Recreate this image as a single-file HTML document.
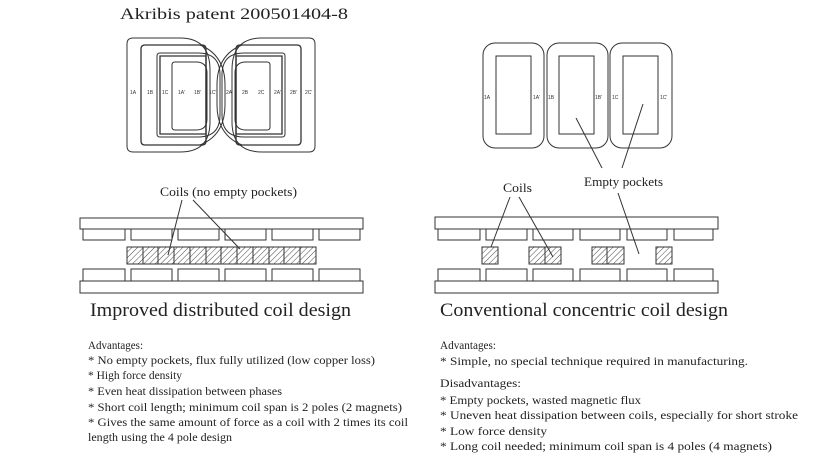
<!DOCTYPE html>
<html><head><meta charset="utf-8"><style>
html,body{margin:0;padding:0;background:#fff;}
svg{display:block;}
text{font-family:"Liberation Serif",serif;fill:#222;}
.s{font-family:"Liberation Sans",sans-serif;font-size:5px;fill:#333;}
</style></head><body>
<svg width="833" height="462" viewBox="0 0 833 462" xmlns="http://www.w3.org/2000/svg">
<defs>
<pattern id="h" patternUnits="userSpaceOnUse" width="4" height="4" patternTransform="rotate(45)">
<line x1="0" y1="0" x2="0" y2="4" stroke="#333" stroke-width="0.9"/>
</pattern>
</defs>
<g fill="none" stroke="#333" stroke-width="1">
<text x="120" y="19" font-size="16" textLength="228" lengthAdjust="spacingAndGlyphs" stroke="none">Akribis patent 200501404-8</text>

<path d="M133,38 H180 Q210,38 210,70 V122 Q210,152 180,152 H133 Q127,152 127,146 V44 Q127,38 133,38 Z"/>
<path d="M145,45 H202 Q206,45 206,49 V141 Q206,145 202,145 H145 Q141,145 141,141 V49 Q141,45 145,45 Z" stroke-width="1.3"/>
<path d="M160,53 H198 Q220,53 220,75 V115 Q220,137 198,137 H160 Q157,137 157,134 V56 Q157,53 160,53 Z"/>
<path d="M160,56 H206 V134 H160 Z" stroke-width="1.3"/>
<path d="M175,62 H196 Q207,62 207,73 V119 Q207,130 196,130 H175 Q172,130 172,127 V65 Q172,62 175,62 Z"/>
<path d="M189,45 H200 Q225,55 225,85 V105 Q225,135 200,145 H189"/>
<g transform="translate(442,0) scale(-1,1)">
<path d="M133,38 H180 Q210,38 210,70 V122 Q210,152 180,152 H133 Q127,152 127,146 V44 Q127,38 133,38 Z"/>
<path d="M145,45 H202 Q206,45 206,49 V141 Q206,145 202,145 H145 Q141,145 141,141 V49 Q141,45 145,45 Z" stroke-width="1.3"/>
<path d="M160,53 H198 Q220,53 220,75 V115 Q220,137 198,137 H160 Q157,137 157,134 V56 Q157,53 160,53 Z"/>
<path d="M160,56 H206 V134 H160 Z" stroke-width="1.3"/>
<path d="M175,62 H196 Q207,62 207,73 V119 Q207,130 196,130 H175 Q172,130 172,127 V65 Q172,62 175,62 Z"/>
<path d="M189,45 H200 Q225,55 225,85 V105 Q225,135 200,145 H189"/>
</g>
<g stroke="none">
<text class="s" x="130" y="94">1A</text><text class="s" x="147" y="94">1B</text><text class="s" x="162" y="94">1C</text>
<text class="s" x="178" y="94">1A'</text><text class="s" x="194" y="94">1B'</text><text class="s" x="209" y="94">1C'</text>
<text class="s" x="226" y="94">2A</text><text class="s" x="242" y="94">2B</text><text class="s" x="258" y="94">2C</text>
<text class="s" x="274" y="94">2A'</text><text class="s" x="290" y="94">2B'</text><text class="s" x="305" y="94">2C'</text>
</g>

<rect x="483" y="43" width="61" height="105" rx="12"/>
<rect x="547" y="43" width="61" height="105" rx="12"/>
<rect x="610" y="43" width="62" height="105" rx="12"/>
<rect x="496" y="56" width="35" height="78"/>
<rect x="559" y="56" width="35" height="78"/>
<rect x="623" y="56" width="35" height="78"/>
<g stroke="none">
<text class="s" x="484" y="99">1A</text><text class="s" x="533" y="99">1A'</text>
<text class="s" x="548" y="99">1B</text><text class="s" x="595" y="99">1B'</text>
<text class="s" x="612" y="99">1C</text><text class="s" x="660" y="99">1C'</text>
</g>

<rect x="80" y="218" width="283" height="11"/>
<rect x="83" y="229" width="42" height="11"/><rect x="131" y="229" width="41" height="11"/><rect x="178" y="229" width="41" height="11"/>
<rect x="225" y="229" width="41" height="11"/><rect x="272" y="229" width="41" height="11"/><rect x="319" y="229" width="41" height="11"/>
<rect x="127" y="247" width="189" height="17" fill="url(#h)"/>
<g>
<line x1="143" y1="247" x2="143" y2="264"/><line x1="158" y1="247" x2="158" y2="264"/><line x1="174" y1="247" x2="174" y2="264"/>
<line x1="190" y1="247" x2="190" y2="264"/><line x1="206" y1="247" x2="206" y2="264"/><line x1="221" y1="247" x2="221" y2="264"/>
<line x1="237" y1="247" x2="237" y2="264"/><line x1="253" y1="247" x2="253" y2="264"/><line x1="269" y1="247" x2="269" y2="264"/>
<line x1="284" y1="247" x2="284" y2="264"/><line x1="300" y1="247" x2="300" y2="264"/>
</g>
<rect x="83" y="269" width="42" height="12"/><rect x="131" y="269" width="41" height="12"/><rect x="178" y="269" width="41" height="12"/>
<rect x="225" y="269" width="41" height="12"/><rect x="272" y="269" width="41" height="12"/><rect x="319" y="269" width="41" height="12"/>
<rect x="80" y="281" width="283" height="12"/>
<text x="160" y="196" font-size="12.5" textLength="137" lengthAdjust="spacingAndGlyphs" stroke="none">Coils (no empty pockets)</text>
<line x1="182" y1="200" x2="168" y2="255"/>
<line x1="193" y1="200" x2="240" y2="249"/>

<rect x="435" y="217" width="283" height="12"/>
<rect x="438" y="229" width="42" height="11"/><rect x="486" y="229" width="41" height="11"/><rect x="533" y="229" width="40" height="11"/>
<rect x="580" y="229" width="40" height="11"/><rect x="627" y="229" width="40" height="11"/><rect x="674" y="229" width="39" height="11"/>
<rect x="482" y="247" width="16" height="17" fill="url(#h)"/>
<rect x="529" y="247" width="16" height="17" fill="url(#h)"/><rect x="545" y="247" width="16" height="17" fill="url(#h)"/>
<rect x="592" y="247" width="15" height="17" fill="url(#h)"/><rect x="607" y="247" width="17" height="17" fill="url(#h)"/>
<rect x="656" y="247" width="16" height="17" fill="url(#h)"/>
<rect x="438" y="269" width="42" height="12"/><rect x="486" y="269" width="41" height="12"/><rect x="533" y="269" width="40" height="12"/>
<rect x="580" y="269" width="40" height="12"/><rect x="627" y="269" width="40" height="12"/><rect x="674" y="269" width="39" height="12"/>
<rect x="435" y="281" width="283" height="12"/>
<text x="503" y="192" font-size="12.5" textLength="29" lengthAdjust="spacingAndGlyphs" stroke="none">Coils</text>
<line x1="510" y1="197" x2="491" y2="247"/>
<line x1="519" y1="197" x2="553" y2="257"/>
<text x="584" y="186" font-size="12.5" textLength="79" lengthAdjust="spacingAndGlyphs" stroke="none">Empty pockets</text>
<line x1="602" y1="168" x2="576" y2="118"/>
<line x1="622" y1="168" x2="643" y2="104"/>
<line x1="618" y1="193" x2="639" y2="254"/>
</g>

<g font-size="19">
<text x="90" y="316" textLength="261" lengthAdjust="spacingAndGlyphs">Improved distributed coil design</text>
<text x="440" y="316" textLength="288" lengthAdjust="spacingAndGlyphs">Conventional concentric coil design</text>
</g>
<g font-size="11.5">
<text x="88" y="349" textLength="55" lengthAdjust="spacingAndGlyphs">Advantages:</text>
<text x="88" y="364" textLength="287" lengthAdjust="spacingAndGlyphs">* No empty pockets, flux fully utilized (low copper loss)</text>
<text x="88" y="379" textLength="94" lengthAdjust="spacingAndGlyphs">* High force density</text>
<text x="88" y="395" textLength="194" lengthAdjust="spacingAndGlyphs">* Even heat dissipation between phases</text>
<text x="88" y="411" textLength="314" lengthAdjust="spacingAndGlyphs">* Short coil length; minimum coil span is 2 poles (2 magnets)</text>
<text x="88" y="426" textLength="320" lengthAdjust="spacingAndGlyphs">* Gives the same amount of force as a coil with 2 times its coil</text>
<text x="88" y="441" textLength="144" lengthAdjust="spacingAndGlyphs">length using the 4 pole design</text>

<text x="440" y="349" textLength="56" lengthAdjust="spacingAndGlyphs">Advantages:</text>
<text x="440" y="365" textLength="308" lengthAdjust="spacingAndGlyphs">* Simple, no special technique required in manufacturing.</text>
<text x="440" y="387" textLength="81" lengthAdjust="spacingAndGlyphs">Disadvantages:</text>
<text x="440" y="404" textLength="201" lengthAdjust="spacingAndGlyphs">* Empty pockets, wasted magnetic flux</text>
<text x="440" y="419" textLength="358" lengthAdjust="spacingAndGlyphs">* Uneven heat dissipation between coils, especially for short stroke</text>
<text x="440" y="435" textLength="107" lengthAdjust="spacingAndGlyphs">* Low force density</text>
<text x="440" y="450" textLength="332" lengthAdjust="spacingAndGlyphs">* Long coil needed; minimum coil span is 4 poles (4 magnets)</text>
</g>
</svg>
</body></html>
